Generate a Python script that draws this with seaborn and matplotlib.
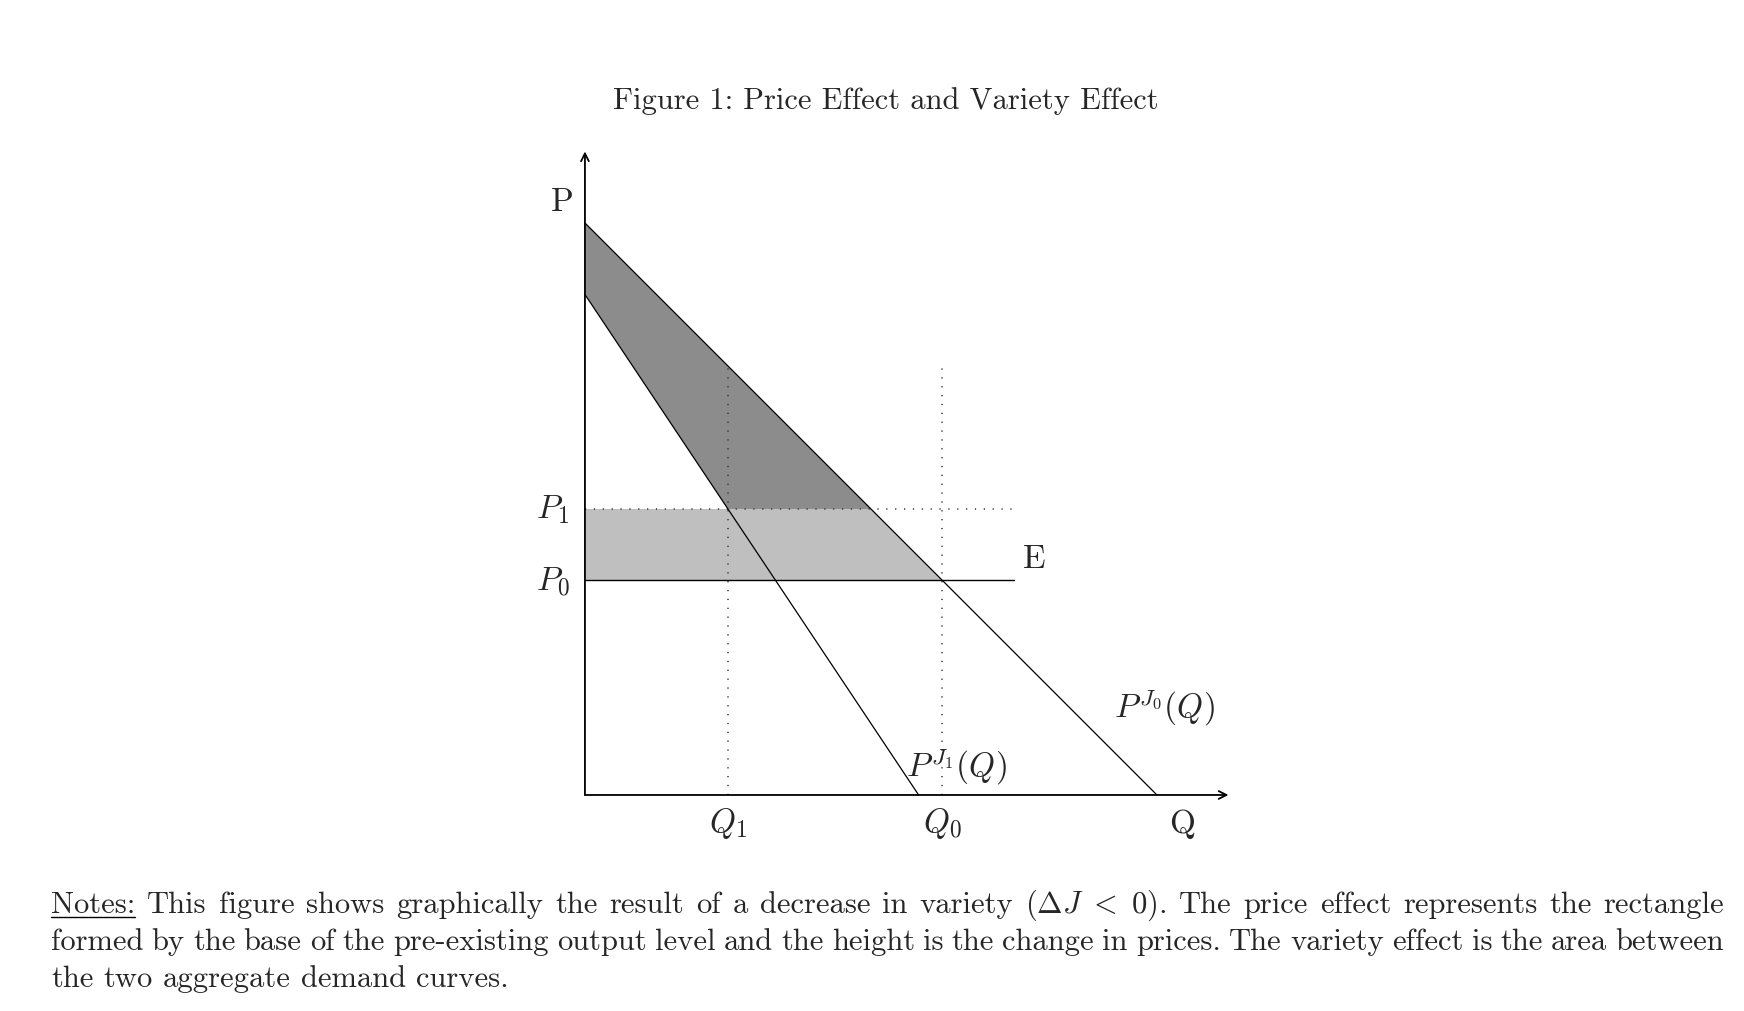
import re
import numpy as np
import matplotlib
matplotlib.use('Agg')
import matplotlib.pyplot as plt
from matplotlib.lines import Line2D
import seaborn as sns

# demand curves (P as function of Q), axis units
upper_q = [0, 8]
upper_p = [8, 0]
lower_q = [0, 14 / 3]
lower_p = [7, 0]

p0, p1 = 3, 4
q1, q0 = 2, 5
guide_top = 6
e_end = 6
axis_end = 9

title = "Figure 1: Price Effect and Variety Effect"
notes = [
    "Notes: This figure shows graphically the result of a decrease in variety $(\\Delta J\\ <\\ 0)$. The price effect represents the rectangle",
    "formed by the base of the pre-existing output level and the height is the change in prices. The variety effect is the area between",
    "the two aggregate demand curves.",
]

sns.set_theme(style='white')
plt.rcParams['font.family'] = 'serif'
plt.rcParams['font.serif'] = ['cmr10']
plt.rcParams['mathtext.fontset'] = 'cm'
plt.rcParams['axes.formatter.use_mathtext'] = True

W, H = 1744, 1012
fig = plt.figure(figsize=(W / 100, H / 100), dpi=100)
fig.patch.set_facecolor('white')
ax = fig.add_axes([0.2944, 0.1428, 0.451, 0.7772])
ax.set_xlim(-1, 10)
ax.set_ylim(-1, 10)
ax.axis('off')

# where curves cross P1 / P0
up_at_p1 = np.interp(p1, upper_p[::-1], upper_q[::-1])
up_at_p0 = np.interp(p0, upper_p[::-1], upper_q[::-1])
lo_at_p1 = np.interp(p1, lower_p[::-1], lower_q[::-1])

# variety effect (dark) and price effect (light)
ax.fill([0, up_at_p1, lo_at_p1, 0], [upper_p[0], p1, p1, lower_p[0]],
        color='#8c8c8c', lw=0, zorder=1)
ax.fill([0, up_at_p0, up_at_p1, 0], [p0, p0, p1, p1],
        color='#bfbfbf', lw=0, zorder=1)

# dotted guides
dots = (0, (0.8, 5.0))
ax.plot([q1, q1], [0, guide_top], ls=dots, color='#333333', lw=1.1, zorder=2)
ax.plot([q0, q0], [0, guide_top], ls=dots, color='#333333', lw=1.1, zorder=2)
ax.plot([0, e_end], [p1, p1], ls=dots, color='#333333', lw=1.1, zorder=2)

# E line
ax.plot([0, e_end], [p0, p0], color='black', lw=1.0, zorder=3)

# demand curves
sns.lineplot(x=upper_q, y=upper_p, color='black', lw=0.9, ax=ax, sort=False,
             estimator=None, zorder=3)
sns.lineplot(x=lower_q, y=lower_p, color='black', lw=0.9, ax=ax, sort=False,
             estimator=None, zorder=3)

# axes with arrows
arr = dict(arrowstyle='->', lw=1.3, color='black', shrinkA=0, shrinkB=0,
           mutation_scale=14)
ax.annotate('', xy=(0, axis_end), xytext=(0, 0), arrowprops=arr, zorder=4)
ax.annotate('', xy=(axis_end, 0), xytext=(0, 0), arrowprops=arr, zorder=4)

fs = 24
ax.text(-0.32, 8.3, 'P', fontsize=fs, ha='center', va='center')
ax.text(-0.45, p1, '$P_1$', fontsize=fs, ha='center', va='center')
ax.text(-0.45, p0, '$P_0$', fontsize=fs, ha='center', va='center')
ax.text(q1, -0.39, '$Q_1$', fontsize=fs, ha='center', va='center')
ax.text(q0, -0.39, '$Q_0$', fontsize=fs, ha='center', va='center')
ax.text(8.35, -0.39, 'Q', fontsize=fs, ha='center', va='center')
ax.text(6.29, 3.31, 'E', fontsize=fs, ha='center', va='center')
ax.text(8.1, 1.23, '$P^{J_0}(Q)$', fontsize=fs, ha='center', va='center')
ax.text(5.19, 0.41, '$P^{J_1}(Q)$', fontsize=fs, ha='center', va='center')

fig.text(886 / W, 1 - 109 / H, title, fontsize=22, ha='center', va='baseline')

# notes, justified like the LaTeX caption
nfs = 22
renderer = fig.canvas.get_renderer()
x_left, x_right = 51, 1724
baselines = [913, 950, 987]
for i, line in enumerate(notes):
    tokens = re.findall(r'\$[^$]*\$\S*|\S+', line)
    texts = [fig.text(0, 0, t, fontsize=nfs, va='baseline') for t in tokens]
    widths = [t.get_window_extent(renderer).width for t in texts]
    if i == len(notes) - 1:
        gap = 0.333 * nfs * 100 / 72
    else:
        gap = (x_right - x_left - sum(widths)) / (len(tokens) - 1)
    x = x_left
    for t, w in zip(texts, widths):
        t.set_position((x / W, 1 - baselines[i] / H))
        x += w + gap
    if i == 0:
        uy = 1 - (baselines[0] + 5) / H
        fig.add_artist(Line2D([x_left / W, (x_left + widths[0]) / W], [uy, uy],
                              color='black', lw=1.0))

fig.savefig('out.png', dpi=100, facecolor='white')
